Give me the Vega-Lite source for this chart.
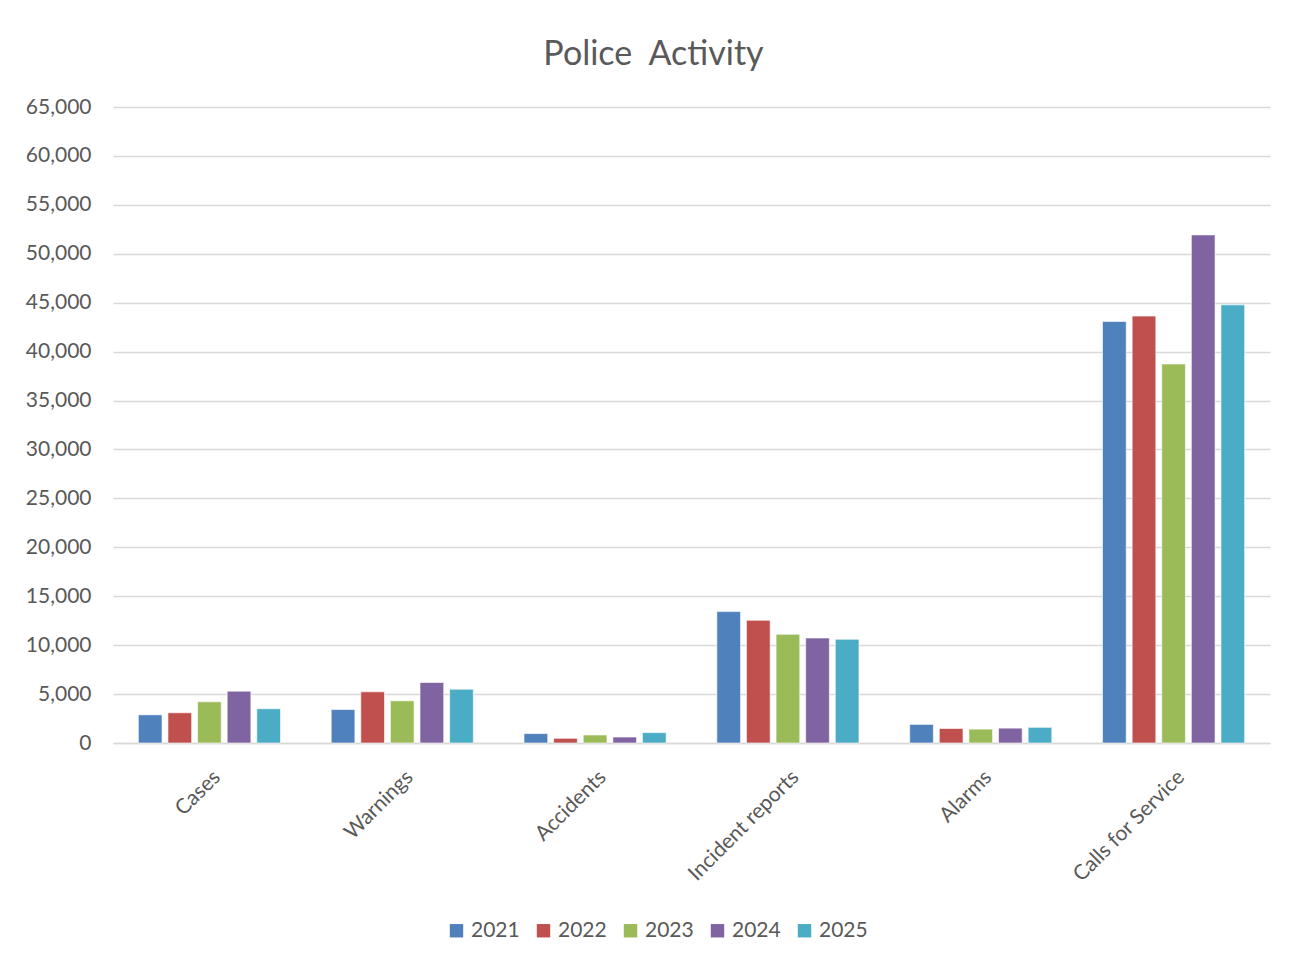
{
  "$schema": "https://vega.github.io/schema/vega-lite/v6.json",
  "width": 1157,
  "height": 636,
  "autosize": {"type": "none"},
  "padding": {"left": 113, "top": 107, "right": 29, "bottom": 219},
  "background": "white",
  "title": {
    "text": "Police \u00a0Activity",
    "anchor": "middle",
    "dx": -38,
    "offset": -3,
    "baseline": "alphabetic",
    "font": "Lato",
    "fontSize": 34,
    "fontWeight": "normal",
    "color": "#595959"
  },
  "data": {
    "values": [
      {"category": "Cases", "year": "2021", "count": 2880},
      {"category": "Cases", "year": "2022", "count": 3090},
      {"category": "Cases", "year": "2023", "count": 4210},
      {"category": "Cases", "year": "2024", "count": 5300},
      {"category": "Cases", "year": "2025", "count": 3500},
      {"category": "Warnings", "year": "2021", "count": 3420},
      {"category": "Warnings", "year": "2022", "count": 5230},
      {"category": "Warnings", "year": "2023", "count": 4310},
      {"category": "Warnings", "year": "2024", "count": 6180},
      {"category": "Warnings", "year": "2025", "count": 5500},
      {"category": "Accidents", "year": "2021", "count": 960},
      {"category": "Accidents", "year": "2022", "count": 480},
      {"category": "Accidents", "year": "2023", "count": 820},
      {"category": "Accidents", "year": "2024", "count": 610},
      {"category": "Accidents", "year": "2025", "count": 1060},
      {"category": "Incident reports", "year": "2021", "count": 13430},
      {"category": "Incident reports", "year": "2022", "count": 12540},
      {"category": "Incident reports", "year": "2023", "count": 11110},
      {"category": "Incident reports", "year": "2024", "count": 10730},
      {"category": "Incident reports", "year": "2025", "count": 10600},
      {"category": "Alarms", "year": "2021", "count": 1900},
      {"category": "Alarms", "year": "2022", "count": 1480},
      {"category": "Alarms", "year": "2023", "count": 1420},
      {"category": "Alarms", "year": "2024", "count": 1520},
      {"category": "Alarms", "year": "2025", "count": 1600},
      {"category": "Calls for Service", "year": "2021", "count": 43080},
      {"category": "Calls for Service", "year": "2022", "count": 43630},
      {"category": "Calls for Service", "year": "2023", "count": 38730},
      {"category": "Calls for Service", "year": "2024", "count": 51930},
      {"category": "Calls for Service", "year": "2025", "count": 44780}
    ]
  },
  "mark": {"type": "bar", "stroke": "white", "strokeWidth": 1, "strokeOpacity": 0.6},
  "encoding": {
    "x": {
      "field": "category",
      "type": "nominal",
      "sort": null,
      "title": null,
      "scale": {"paddingInner": 0.263, "paddingOuter": 0.1315},
      "axis": {
        "labelAngle": -45,
        "labelPadding": 23,
        "labelFont": "Lato",
        "labelFontSize": 21,
        "labelColor": "#595959",
        "ticks": false,
        "domainColor": "#D9D9D9",
        "domainWidth": 1.5
      }
    },
    "xOffset": {
      "field": "year",
      "type": "nominal",
      "scale": {"paddingInner": 0.2, "paddingOuter": 0}
    },
    "y": {
      "field": "count",
      "type": "quantitative",
      "title": null,
      "scale": {"domain": [0, 65000], "nice": false},
      "axis": {
        "values": [0, 5000, 10000, 15000, 20000, 25000, 30000, 35000, 40000, 45000, 50000, 55000, 60000, 65000],
        "format": ",.0f",
        "domain": false,
        "ticks": false,
        "tickSize": 0,
        "labelPadding": 22,
        "labelFont": "Lato",
        "labelFontSize": 21,
        "labelColor": "#595959",
        "gridColor": "#D9D9D9",
        "gridWidth": 1.5
      }
    },
    "color": {
      "field": "year",
      "type": "nominal",
      "title": null,
      "scale": {
        "domain": ["2021", "2022", "2023", "2024", "2025"],
        "range": ["#4F81BD", "#C0504D", "#9BBB59", "#8064A2", "#4BACC6"]
      },
      "legend": {
        "orient": "none",
        "legendX": 333,
        "legendY": 813,
        "direction": "horizontal",
        "columns": 5,
        "columnPadding": 13,
        "symbolType": "square",
        "symbolSize": 180,
        "symbolStrokeWidth": 0,
        "labelFont": "Lato",
        "labelFontSize": 21,
        "labelColor": "#595959",
        "labelOffset": 4
      }
    }
  },
  "config": {
    "view": {"stroke": null}
  }
}
